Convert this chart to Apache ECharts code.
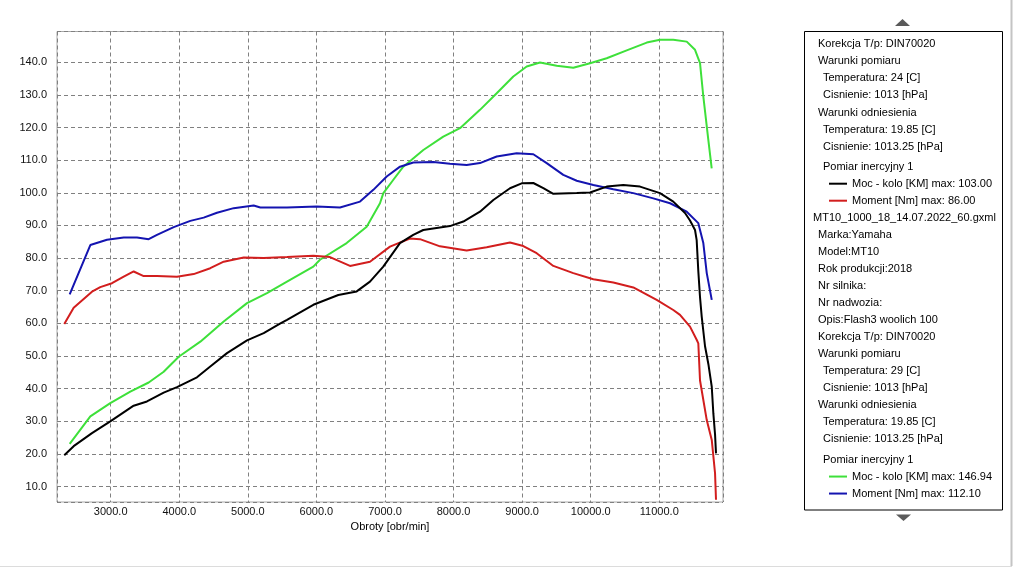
<!DOCTYPE html>
<html>
<head>
<meta charset="utf-8">
<script src="https://cdn.jsdelivr.net/npm/echarts@6/dist/echarts.min.js"></script>
<style>
html,body{margin:0;padding:0;background:#fff;}
#chart{width:1031px;height:572px;}
</style>
</head>
<body>
<div id="chart"></div>
<script>
// ---- DATA ----
var xAxisName = 'Obroty [obr/min]';

var mocRun1Name = 'Moc - kolo [KM] max: 103.00';
var mocRun1Rpm = [2323,2460,2727,2994,3335,3529,3773,3967,4258,4452,4696,4988,5231,5469,5571,5955,6319,6587,6781,6975,7218,7412,7558,7947,8142,8385,8580,8823,8993,9163,9309,9455,9796,9990,10233,10475,10719,11010,11204,11375,11448,11521,11545,11569,11594,11619,11667,11716,11765,11788,11813,11827];
var mocRun1 = [19.6,22.4,26.4,30.0,34.8,36.1,38.8,40.5,43.5,46.8,50.9,54.8,57.0,59.9,61.1,65.7,68.7,69.8,72.8,77.4,84.6,87.1,88.6,89.8,91.2,94.2,97.8,101.4,102.9,103.0,101.4,99.7,99.9,100.1,101.9,102.4,101.9,99.9,97.3,93.8,91.5,88.6,85.5,76.0,68.0,62.0,53.0,47.5,40.6,32.5,26.0,20.2];

var momentRun1Name = 'Moment [Nm] max: 86.00';
var momentRun1Rpm = [2323,2460,2727,2848,3019,3190,3335,3481,3675,3967,4210,4452,4648,4940,5231,5571,5955,6198,6490,6781,7073,7364,7510,7802,8191,8483,8823,9017,9212,9455,9746,10038,10330,10621,10962,11204,11302,11448,11545,11569,11594,11692,11765,11813,11827];
var momentRun1 = [59.8,64.8,69.7,71.1,72.3,74.3,75.9,74.5,74.5,74.3,75.1,76.9,78.9,80.2,80.0,80.3,80.7,80.3,77.6,78.9,83.5,86.0,85.8,83.6,82.3,83.3,84.8,83.7,81.5,77.6,75.4,73.5,72.5,71.0,67.2,64.1,62.6,59.0,55.0,53.9,42.5,30.4,24.3,14.1,6.0];

var mocRun2Name = 'Moc - kolo [KM] max: 146.94';
var mocRun2Rpm = [2402,2703,2994,3286,3554,3773,3992,4307,4648,4988,5279,5571,5955,6052,6441,6733,6927,6976,7122,7267,7389,7559,7850,8094,8385,8629,8871,9066,9260,9504,9746,9990,10233,10525,10817,11011,11204,11400,11521,11594,11642,11715,11764];
var mocRun2 = [23.1,31.5,35.6,39.1,41.9,45.2,49.8,54.4,60.6,66.2,69.3,72.8,77.4,79.5,84.6,89.6,96.8,99.9,104.0,108.0,110.1,113.1,117.2,119.8,125.4,130.5,135.6,138.7,139.9,138.9,138.3,139.7,141.2,143.6,146.0,146.9,146.9,146.3,143.8,139.7,129.5,116.2,107.5];

var momentRun2Name = 'Moment [Nm] max: 112.10';
var momentRun2Rpm = [2402,2703,2946,3190,3384,3554,3675,3919,4161,4356,4550,4794,5085,5182,5571,6004,6344,6636,6830,7025,7219,7413,7705,7948,8191,8385,8629,8920,9163,9358,9600,9796,10038,10330,10621,10913,11157,11400,11569,11642,11692,11765];
var momentRun2 = [68.9,84.0,85.6,86.3,86.3,85.8,87.1,89.5,91.4,92.4,93.9,95.3,96.1,95.5,95.5,95.8,95.5,97.3,100.9,105.0,108.0,109.3,109.4,108.9,108.5,109.1,111.1,112.1,111.8,109.1,105.5,103.7,102.4,101.1,99.9,98.3,96.8,94.2,90.7,84.6,75.4,67.2];

var infoRun1 = ['Korekcja T/p: DIN70020','Warunki pomiaru','Temperatura: 24 [C]','Cisnienie: 1013 [hPa]','Warunki odniesienia','Temperatura: 19.85 [C]','Cisnienie: 1013.25 [hPa]','Pomiar inercyjny 1'];
var fileInfo = ['MT10_1000_18_14.07.2022_60.gxml','Marka:Yamaha','Model:MT10','Rok produkcji:2018','Nr silnika:','Nr nadwozia:','Opis:Flash3 woolich 100'];
var infoRun2 = ['Korekcja T/p: DIN70020','Warunki pomiaru','Temperatura: 29 [C]','Cisnienie: 1013 [hPa]','Warunki odniesienia','Temperatura: 19.85 [C]','Cisnienie: 1013.25 [hPa]','Pomiar inercyjny 1'];

// ---- BUILD ----
function pairs(xs, ys){ return xs.map(function(x,i){ return [x, ys[i]]; }); }
var FONT = '"Liberation Sans", Arial, sans-serif';

function rowY(i){ return 44.3 + 17.05*i + (i>=7?3:0) + (i>=24?3:0); }
function rowX(t, isFile){
  if (isFile) return 813;
  if (/^(Temperatura|Cisnienie|Pomiar)/.test(t)) return 823;
  return 818;
}
var graphics = [];
graphics.push({type:'line', shape:{x1:1011.5,y1:0,x2:1011.5,y2:566}, style:{stroke:'#c4c4c4', lineWidth:2}, silent:true});
graphics.push({type:'line', shape:{x1:0,y1:566.5,x2:1012,y2:566.5}, style:{stroke:'#dcdcdc', lineWidth:1}, silent:true});
graphics.push({type:'rect', shape:{x:804.5,y:31.5,width:198,height:478.5}, style:{fill:'#fff', stroke:'#000', lineWidth:1}, z:0});
graphics.push({type:'polygon', shape:{points:[[895,26],[902.5,19],[910,26]]}, style:{fill:'#5a5a5a'}});
graphics.push({type:'polygon', shape:{points:[[896,514.5],[911,514.5],[903.5,521]]}, style:{fill:'#5a5a5a'}});
function addRow(t, i, isFile){
  graphics.push({type:'text', x:rowX(t,isFile), y:rowY(i), z:10,
    style:{text:t, font:'11px '+FONT, fill:'#000', verticalAlign:'middle', align:'left'}});
}
infoRun1.forEach(function(t,k){ addRow(t, k, false); });
fileInfo.forEach(function(t,k){ addRow(t, 10+k, k===0); });
infoRun2.forEach(function(t,k){ addRow(t, 17+k, false); });

var chart = echarts.init(document.getElementById('chart'), null, {renderer:'canvas'});
var legendBase = {
  orient:'vertical', left:829, padding:0, itemGap:0, itemWidth:18, itemHeight:2, icon:'rect',
  selectedMode:false,
  textStyle:{fontFamily:FONT, fontSize:11, color:'#000', lineHeight:17}
};
chart.setOption({
  backgroundColor:'#fff',
  animation:false,
  grid:{left:57, top:31.5, right:308, bottom:70, show:true, borderColor:'#a8a8a8', borderWidth:1, containLabel:false},
  legend:[
    Object.assign({}, legendBase, {top:rowY(8)-8.5, data:[mocRun1Name, momentRun1Name]}),
    Object.assign({}, legendBase, {top:rowY(25)-8.5, data:[mocRun2Name, momentRun2Name]})
  ],
  graphic: graphics,
  xAxis:{
    type:'value', min:2217, max:11929, minInterval:1000, maxInterval:1000, splitNumber:10,
    name:xAxisName, nameLocation:'middle', nameGap:16,
    nameTextStyle:{fontFamily:FONT, fontSize:11, color:'#000'},
    axisLine:{show:false}, axisTick:{show:false},
    axisLabel:{showMinLabel:false, showMaxLabel:false, margin:4, fontFamily:FONT, fontSize:11, color:'#111',
      formatter:function(v){ return v.toFixed(1); }},
    splitLine:{show:true, lineStyle:{color:'#808080', type:[4,3], width:1}}
  },
  yAxis:{
    type:'value', min:5.3, max:149.4, minInterval:10, maxInterval:10, splitNumber:14,
    axisLine:{show:false}, axisTick:{show:false},
    axisLabel:{showMinLabel:false, showMaxLabel:false, margin:10, fontFamily:FONT, fontSize:11, color:'#111',
      formatter:function(v){ return v.toFixed(1); }},
    splitLine:{show:true, lineStyle:{color:'#808080', type:[4,3], width:1}}
  },
  series:[
    {name:mocRun2Name, type:'line', data:pairs(mocRun2Rpm, mocRun2), showSymbol:false, color:'#3ee03a', lineStyle:{width:2, color:'#3ee03a'}},
    {name:momentRun2Name, type:'line', data:pairs(momentRun2Rpm, momentRun2), showSymbol:false, color:'#1414b0', lineStyle:{width:2, color:'#1414b0'}},
    {name:momentRun1Name, type:'line', data:pairs(momentRun1Rpm, momentRun1), showSymbol:false, color:'#d21e1e', lineStyle:{width:2, color:'#d21e1e'}},
    {name:mocRun1Name, type:'line', data:pairs(mocRun1Rpm, mocRun1), showSymbol:false, color:'#000000', lineStyle:{width:2, color:'#000000'}}
  ]
});
</script>
</body>
</html>
